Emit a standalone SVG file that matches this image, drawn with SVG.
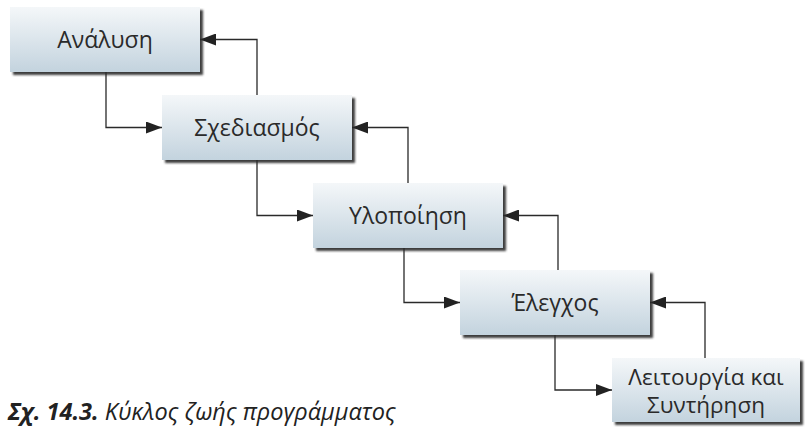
<svg xmlns="http://www.w3.org/2000/svg" width="805" height="427" viewBox="0 0 805 427">
  <defs>
    <linearGradient id="boxGrad" x1="0" y1="0" x2="0" y2="1">
      <stop offset="0" stop-color="#f4f7f9"/>
      <stop offset="1" stop-color="#c3d3de"/>
    </linearGradient>
    <filter id="shadow" x="-10%" y="-10%" width="130%" height="140%">
      <feDropShadow dx="3" dy="3" stdDeviation="1.2" flood-color="#2a2a2a" flood-opacity="0.9"/>
    </filter>
    <marker id="arrow" viewBox="0 0 16 12" refX="16" refY="6" markerWidth="16" markerHeight="12" markerUnits="userSpaceOnUse" orient="auto">
      <path d="M0,0 L16,6 L0,12 z" fill="#222222"/>
    </marker>
  </defs>
  <style>
    .box { fill: url(#boxGrad); filter: url(#shadow); }
    .label { font-family: "Open Sans", "Noto Sans", sans-serif; font-size: 23px; fill: #2a2a2a; text-anchor: middle; }
    .small { font-size: 22.5px; }
    .conn { fill: none; stroke: #2a2a2a; stroke-width: 1.3; marker-end: url(#arrow); }
    .caption { font-family: "Open Sans", "Noto Sans", sans-serif; font-size: 23.5px; font-style: italic; fill: #222222; }
  </style>

  <g id="connectors">
    <path class="conn" d="M106,72 V127.5 H162"/>
    <path class="conn" d="M257,95 V39.5 H200"/>
    <path class="conn" d="M257,160 V215.5 H313"/>
    <path class="conn" d="M408,183 V127.5 H352"/>
    <path class="conn" d="M404,248 V302.5 H460"/>
    <path class="conn" d="M558,270 V215.5 H503"/>
    <path class="conn" d="M555,335 V390 H612"/>
    <path class="conn" d="M705,358 V302.5 H650"/>
  </g>

  <g id="analysis">
    <rect class="box" x="10" y="7" width="190" height="65"/>
    <text class="label" x="105" y="48">Ανάλυση</text>
  </g>
  <g id="design">
    <rect class="box" x="162" y="95" width="190" height="65"/>
    <text class="label" x="257" y="136">Σχεδιασμός</text>
  </g>
  <g id="implementation">
    <rect class="box" x="313" y="183" width="190" height="65"/>
    <text class="label" x="408" y="224">Υλοποίηση</text>
  </g>
  <g id="testing">
    <rect class="box" x="460" y="270" width="190" height="65"/>
    <text class="label" x="555" y="311">Έλεγχος</text>
  </g>
  <g id="operation">
    <rect class="box" x="612" y="358" width="188" height="64"/>
    <text class="label small" x="706" y="385">Λειτουργία και</text>
    <text class="label small" x="706" y="413">Συντήρηση</text>
  </g>

  <text class="caption" x="8" y="420"><tspan font-weight="bold">Σχ. 14.3.</tspan> Κύκλος ζωής προγράμματος</text>
</svg>
